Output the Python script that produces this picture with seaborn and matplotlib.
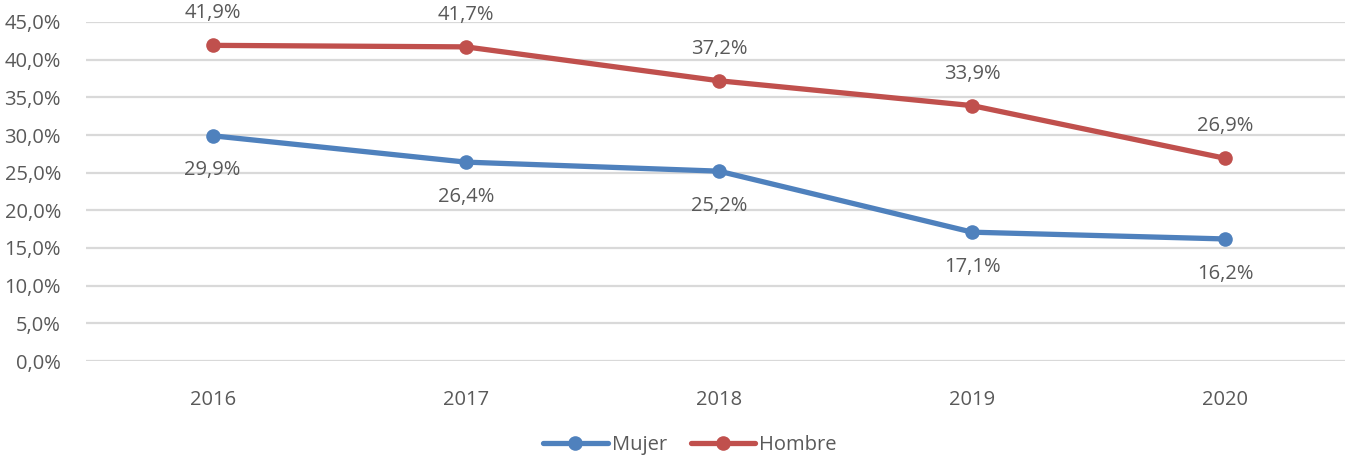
import matplotlib
matplotlib.use("Agg")
import matplotlib.pyplot as plt
import seaborn as sns
import pandas as pd
from matplotlib.ticker import FuncFormatter

years = ["2016", "2017", "2018", "2019", "2020"]
mujer = [29.9, 26.4, 25.2, 17.1, 16.2]
hombre = [41.9, 41.7, 37.2, 33.9, 26.9]
series_names = ["Mujer", "Hombre"]
yticks = [0, 5, 10, 15, 20, 25, 30, 35, 40, 45]

sns.set_theme(style="white")
plt.rcParams['font.family'] = ['Open Sans', 'DejaVu Sans']

df = pd.DataFrame({
    "year": years * 2,
    "value": mujer + hombre,
    "serie": [series_names[0]] * len(years) + [series_names[1]] * len(years),
})

colors = {"Mujer": "#4F81BD", "Hombre": "#C0504D"}
text_color = "#595959"
fs = 14.5

fig = plt.figure(figsize=(13.45, 4.59), dpi=100)
ax = fig.add_axes([86 / 1345, (459 - 361) / 459, (1352 - 86) / 1345, (361 - 22) / 459])

for ax_y in yticks:
    ax.axhline(ax_y, color="#D9D9D9", lw=1.6, zorder=0)

sns.lineplot(data=df, x="year", y="value", hue="serie", palette=colors,
             marker="o", markersize=10.5, markeredgewidth=0, linewidth=3.8,
             sort=False, ax=ax, zorder=3)

ax.set_xlim(-0.5, len(years) - 0.5)
ax.set_ylim(0, 45)
ax.set_yticks(yticks)
ax.yaxis.set_major_formatter(FuncFormatter(lambda v, p: f"{v:.1f}".replace(".", ",") + "%"))
ax.tick_params(axis="y", length=0, pad=18, labelsize=fs, labelcolor=text_color)
ax.tick_params(axis="x", length=0, pad=21, labelsize=fs, labelcolor=text_color)
ax.set_xlabel("")
ax.set_ylabel("")
for s in ax.spines.values():
    s.set_visible(False)

for i, v in enumerate(hombre):
    ax.annotate(f"{v:.1f}".replace(".", ",") + "%", (i, v), xytext=(0, 23),
                textcoords="offset points", ha="center", va="center",
                fontsize=fs, color=text_color, annotation_clip=False)
for i, v in enumerate(mujer):
    ax.annotate(f"{v:.1f}".replace(".", ",") + "%", (i, v), xytext=(0, -25),
                textcoords="offset points", ha="center", va="center",
                fontsize=fs, color=text_color, annotation_clip=False)

handles, labels = ax.get_legend_handles_labels()
ax.legend(handles, labels, loc="center", bbox_to_anchor=(690 / 1345, 14 / 459),
          bbox_transform=fig.transFigure, ncol=2, frameon=False,
          fontsize=fs, labelcolor=text_color, handlelength=3.2,
          handletextpad=0.2, columnspacing=1.2)

fig.savefig("out.png", dpi=100)
